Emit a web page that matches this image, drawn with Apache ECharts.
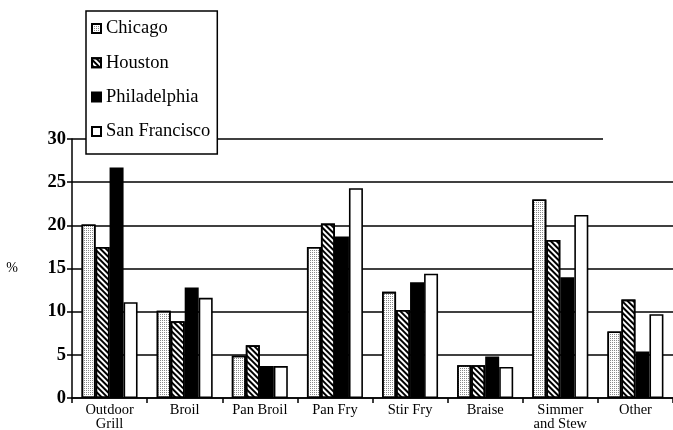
<!DOCTYPE html>
<html>
<head>
<meta charset="utf-8">
<script src="https://cdn.jsdelivr.net/npm/echarts@6/dist/echarts.min.js"></script>
<style>
  html, body { margin: 0; padding: 0; background: #fff; }
  #main { width: 673px; height: 430px; }
</style>
</head>
<body>
<div id="main"></div>
<script>
// cooking methods, % of respondents by city
var methods = ['Outdoor\nGrill', 'Broil', 'Pan Broil', 'Pan Fry', 'Stir Fry', 'Braise', 'Simmer\nand Stew', 'Other'];
var chicago = [20.1, 10.1, 4.9, 17.5, 12.3, 3.8, 23.0, 7.7];
var houston = [17.5, 8.9, 6.1, 20.2, 10.2, 3.8, 18.3, 11.4];
var philadelphia = [26.7, 12.8, 3.7, 18.7, 13.4, 4.8, 14.0, 5.4];
var sanFrancisco = [11.1, 11.6, 3.7, 24.3, 14.4, 3.6, 21.2, 9.7];
var yTicks = [0, 5, 10, 15, 20, 25, 30];

var serif = "'Liberation Serif', 'DejaVu Serif', serif";

var chart = echarts.init(document.getElementById('main'));

function bar(name, data, fill, decal) {
  var s = {
    name: name,
    type: 'bar',
    data: data,
    barWidth: 14,
    barGap: '0%',
    itemStyle: {
      color: fill,
      borderColor: '#000',
      borderWidth: 1.6
    }
  };
  if (decal) s.itemStyle.decal = decal;
  return s;
}

var chicagoSeries = bar('Chicago', chicago, '#fff', {
  symbol: 'rect', symbolSize: 1, dashArrayX: [1, 1], dashArrayY: [1, 1], color: '#8a8a8a'
});
// top gridline stops short of the right edge in the original
chicagoSeries.markLine = {
  silent: true,
  symbol: 'none',
  label: { show: false },
  lineStyle: { color: '#000', width: 1.5, type: 'solid' },
  data: [[{ coord: [0, 30], x: 72 }, { coord: [7, 30], x: 603 }]]
};

var option = {
  animation: false,
  backgroundColor: '#fff',
  grid: { left: 72, right: 0, top: 139, bottom: 32, outerBoundsMode: 'none', containLabel: false },
  legend: {
    orient: 'vertical',
    left: 86,
    top: 11,
    padding: [8, 7, 13, 5],
    itemGap: 15.3,
    itemWidth: 9,
    itemHeight: 9,
    icon: 'rect',
    borderColor: '#000',
    borderWidth: 1.5,
    backgroundColor: '#fff',
    textStyle: { fontFamily: serif, fontSize: 18.5, color: '#000' },
    data: ['Chicago', 'Houston', 'Philadelphia', 'San Francisco'],
    z: 10
  },
  xAxis: {
    type: 'category',
    data: methods,
    axisLine: { lineStyle: { color: '#000', width: 1.5 } },
    axisTick: { show: true, length: 5, lineStyle: { color: '#000', width: 1.5 } },
    axisLabel: { fontFamily: serif, fontSize: 14.5, color: '#000', margin: 5, lineHeight: 14, interval: 0 }
  },
  yAxis: {
    type: 'value',
    min: 0,
    max: 30,
    interval: 5,
    name: '%',
    nameLocation: 'middle',
    nameRotate: 0,
    nameGap: 54,
    nameTextStyle: { fontFamily: serif, fontSize: 14, color: '#000' },
    axisLine: { show: true, lineStyle: { color: '#000', width: 1.5 } },
    axisTick: { show: true, length: 5, lineStyle: { color: '#000', width: 1.5 } },
    axisLabel: {
      fontFamily: serif, fontSize: 18.5, fontWeight: 'bold', color: '#000', margin: 6,
      formatter: function (v) { return yTicks.indexOf(v) >= 0 ? String(v) : ''; }
    },
    splitLine: { show: true, showMaxLine: false, lineStyle: { color: '#000', width: 1.5 } }
  },
  series: [
    chicagoSeries,
    bar('Houston', houston, '#fff', {
      symbol: 'rect', symbolSize: 1, dashArrayX: [1, 0], dashArrayY: [2, 2], rotation: Math.PI / 4, color: '#000'
    }),
    bar('Philadelphia', philadelphia, '#000'),
    bar('San Francisco', sanFrancisco, '#fff')
  ]
};

chart.setOption(option);
</script>
</body>
</html>
